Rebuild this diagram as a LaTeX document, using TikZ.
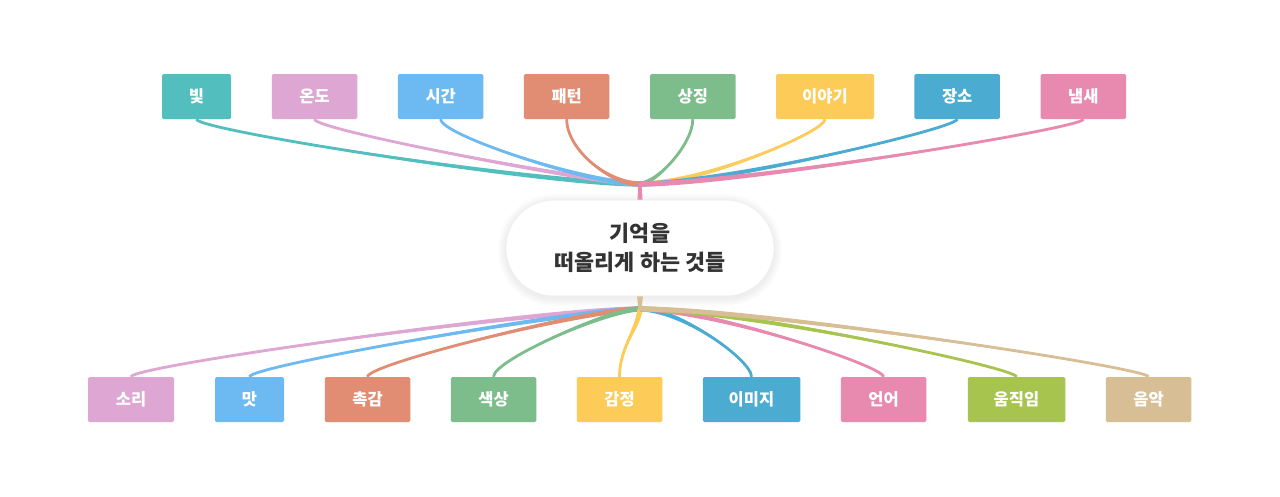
\documentclass[tikz,border=0pt]{standalone}
\usepackage{fontspec}
\newfontfamily\kr{Noto Sans CJK KR}
\usetikzlibrary{calc}
\definecolor{cTeal}{HTML}{52BEBE}
\definecolor{cLav}{HTML}{DDA6D3}
\definecolor{cSky}{HTML}{6DB9F1}
\definecolor{cSal}{HTML}{E08D73}
\definecolor{cGrn}{HTML}{7CBD8B}
\definecolor{cYel}{HTML}{FDCB57}
\definecolor{cBlu}{HTML}{4BABD0}
\definecolor{cPnk}{HTML}{E889B0}
\definecolor{cLim}{HTML}{A6C44E}
\definecolor{cTan}{HTML}{D8BE95}
\definecolor{cTxt}{HTML}{333333}
\pgfdeclarelayer{bg}
\pgfsetlayers{bg,main}
\def\wA{0.3}\def\wB{2.6}
% tapered connector: colour, start, c1 offset from start, c2 offset from end, end
\newcommand\taper[5]{%
\draw[#1, line width=2.8pt] (#2) .. controls ($(#2)+(#3)$) and ($(#5)+(#4)$) .. (#5);
\fill[#1] let \p1=(#2), \p2=($(#2)+(#3)$), \p3=($(#5)+(#4)$), \p4=(#5),
 \n1={veclen((\x2)-(\x1),(\y2)-(\y1))}, \n2={veclen((\x4)-(\x3),(\y4)-(\y3))},
 \n3={-\wA*((\y2)-(\y1))/(\n1)}, \n4={\wA*((\x2)-(\x1))/(\n1)},
 \n5={-\wB*((\y4)-(\y3))/(\n2)}, \n6={\wB*((\x4)-(\x3))/(\n2)}
 in ({(\x1)+(\n3)},{(\y1)+(\n4)}) .. controls ({(\x2)+(\n3)},{(\y2)+(\n4)}) and ({(\x3)+(\n5)},{(\y3)+(\n6)}) .. ({(\x4)+(\n5)},{(\y4)+(\n6)})
 -- ({(\x4)-(\n5)},{(\y4)-(\n6)}) .. controls ({(\x3)-(\n5)},{(\y3)-(\n6)}) and ({(\x2)-(\n3)},{(\y2)-(\n4)}) .. ({(\x1)-(\n3)},{(\y1)-(\n4)}) -- cycle;}
\begin{document}
\begin{tikzpicture}[x=1pt,y=-1pt,
  lbl/.style={fill=#1, rounded corners=1.5pt, minimum height=45pt, inner sep=0pt,
    text=white, font=\kr\bfseries\fontsize{16.5}{19}\selectfont},
  hubnode/.style={draw=black!7, line width=0.6pt, fill=white, rounded corners=47.9pt,
    minimum width=268pt, minimum height=96pt, align=center, text=cTxt,
    font=\kr\bfseries\fontsize{21.8}{29}\selectfont}]
\useasboundingbox (0,0) rectangle (1280,496);
% top row
\node[lbl=cTeal, minimum width=69pt]   (t1) at (196.5,96.5) {빛};
\node[lbl=cLav,  minimum width=85.5pt] (t2) at (314.5,96.5) {온도};
\node[lbl=cSky,  minimum width=85.5pt] (t3) at (440.7,96.5) {시간};
\node[lbl=cSal,  minimum width=85.5pt] (t4) at (566.7,96.5) {패턴};
\node[lbl=cGrn,  minimum width=85.5pt] (t5) at (692.8,96.5) {상징};
\node[lbl=cYel,  minimum width=98pt]   (t6) at (825,96.5)   {이야기};
\node[lbl=cBlu,  minimum width=85.5pt] (t7) at (957.2,96.5) {장소};
\node[lbl=cPnk,  minimum width=85.5pt] (t8) at (1083.4,96.5) {냄새};
% bottom row
\node[lbl=cLav,  minimum width=86pt]   (b1) at (131,399.5)   {소리};
\node[lbl=cSky,  minimum width=69pt]   (b2) at (249.5,399.5) {맛};
\node[lbl=cSal,  minimum width=85.5pt] (b3) at (367.5,399.5) {촉감};
\node[lbl=cGrn,  minimum width=85.5pt] (b4) at (493.5,399.5) {색상};
\node[lbl=cYel,  minimum width=85.5pt] (b5) at (619.5,399.5) {감정};
\node[lbl=cBlu,  minimum width=97.5pt] (b6) at (751.5,399.5) {이미지};
\node[lbl=cPnk,  minimum width=85.5pt] (b7) at (883.5,399.5) {언어};
\node[lbl=cLim,  minimum width=97.5pt] (b8) at (1016.5,399.5) {움직임};
\node[lbl=cTan,  minimum width=85.5pt] (b9) at (1148.5,399.5) {음악};
% centre
\node[hubnode] (c) at (640,248) {기억을\\떠올리게 하는 것들};
\coordinate (ht) at (640,184);
\coordinate (hb) at (640,309);
\begin{pgfonlayer}{bg}
  \fill[white] (0,0) rectangle (1280,496);
  % soft shadow
  \foreach \i in {1,...,8}
    \fill[black, opacity=0.008, rounded corners={48pt+\i pt}]
      ($(c.south west)+(-\i,\i+2)$) rectangle ($(c.north east)+(\i,-\i+2)$);
  % top connectors
  \taper{cTeal}{t1.south}{0,11}{-99,0}{ht}
  \taper{cLav}{t2.south}{0,11}{-40,0}{ht}
  \taper{cSky}{t3.south}{0,16}{-50,0}{ht}
  \taper{cSal}{t4.south}{0,31}{-30,0}{ht}
  \taper{cGrn}{t5.south}{0,26}{15,0}{ht}
  \taper{cYel}{t6.south}{0,13}{60,0}{ht}
  \taper{cBlu}{t7.south}{0,9}{80,0}{ht}
  \taper{cPnk}{t8.south}{0,9}{100,0}{ht}
  \fill[cPnk] ($(ht)+(-1.6,-1)$) -- ($(ht)+(1.6,-1)$) -- ($(c.north)+(2.6,1)$) -- ($(c.north)+(-2.6,1)$) -- cycle;
  % bottom connectors
  \taper{cLav}{b1.north}{0,-11}{-100,0}{hb}
  \taper{cSky}{b2.north}{0,-11}{-60,0}{hb}
  \taper{cSal}{b3.north}{0,-13}{-50,0}{hb}
  \taper{cGrn}{b4.north}{0,-17}{-30,0}{hb}
  \taper{cYel}{b5.north}{0,-30}{-2,20}{hb}
  \taper{cBlu}{b6.north}{0,-17}{40,0}{hb}
  \taper{cPnk}{b7.north}{0,-11}{70,0}{hb}
  \taper{cLim}{b8.north}{0,-9}{100,0}{hb}
  \taper{cTan}{b9.north}{0,-9}{120,0}{hb}
  \fill[cTan] ($(hb)+(-1.6,1)$) -- ($(hb)+(1.6,1)$) -- ($(c.south)+(3,-1)$) -- ($(c.south)+(-3,-1)$) -- cycle;
\end{pgfonlayer}
\end{tikzpicture}
\end{document}
